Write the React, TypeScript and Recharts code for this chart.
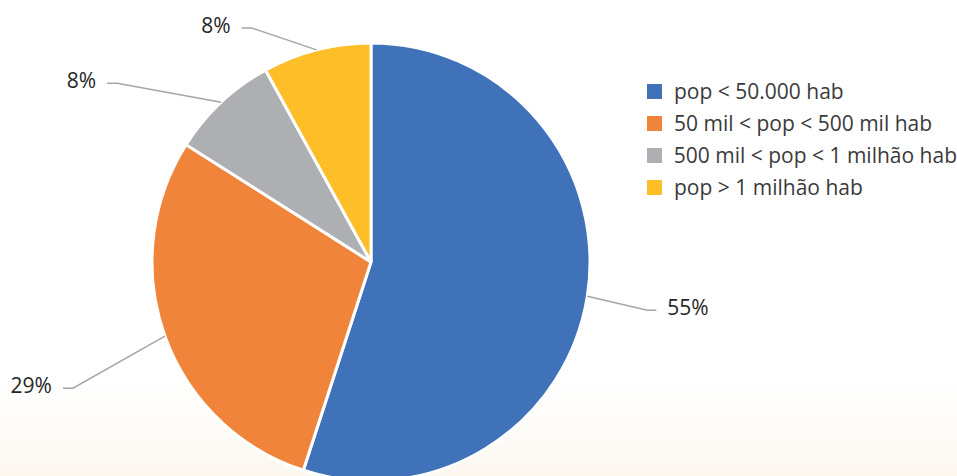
import { PieChart, Pie, Cell, Legend } from 'recharts';

const categories = [
  'pop < 50.000 hab',
  '50 mil < pop < 500 mil hab',
  '500 mil < pop < 1 milhão hab',
  'pop > 1 milhão hab',
];
const shares = [55, 29, 8, 8];
const colors = ['#3F72B9', '#F0843A', '#AEAFB2', '#FDBE27'];

// elbow of each leader line, relative to where it leaves the pie
const labelElbow = [
  [60, 14],
  [-92, 52],
  [-104, -19],
  [-65, -22],
];

const data = categories.map((name, i) => ({ name, value: shares[i] }));

const RAD = Math.PI / 180;
const FONT = '"Open Sans", sans-serif';

const renderLabel = (props: any) => {
  const { cx, cy, midAngle, outerRadius, index, value } = props;
  const sx = cx + outerRadius * Math.cos(-midAngle * RAD);
  const sy = cy + outerRadius * Math.sin(-midAngle * RAD);
  const [dx, dy] = labelElbow[index];
  const ex = sx + dx;
  const ey = sy + dy;
  const right = dx > 0;
  const hx = ex + (right ? 9 : -10);
  const tx = hx + (right ? 11 : -11);
  return (
    <g>
      <polyline
        points={`${sx},${sy} ${ex},${ey} ${hx},${ey}`}
        fill="none"
        stroke="#A6A6A6"
        strokeWidth={1.5}
      />
      <text
        x={tx}
        y={ey - 3}
        textAnchor={right ? 'start' : 'end'}
        dominantBaseline="central"
        fill="#262626"
        fontSize={21}
        fontFamily={FONT}
      >
        {`${value}%`}
      </text>
    </g>
  );
};

const renderLegend = () => (
  <div>
    {categories.map((name, i) => (
      <div key={name} style={{ display: 'flex', alignItems: 'center', height: 32 }}>
        <div style={{ width: 15, height: 15, background: colors[i], marginRight: 12 }} />
        <span style={{ fontFamily: FONT, fontSize: 21, color: '#3a3a3a', whiteSpace: 'nowrap' }}>
          {name}
        </span>
      </div>
    ))}
  </div>
);

export default function App() {
  return (
    <div
      style={{
        position: 'absolute',
        left: 0,
        top: 0,
        width: 957,
        height: 476,
        overflow: 'hidden',
        background: 'linear-gradient(to bottom, #ffffff 0%, #ffffff 80%, #fcf8f0 100%)',
      }}
    >
      <PieChart width={957} height={476} margin={{ top: 0, right: 0, bottom: 0, left: 0 }}>
        <Pie
          data={data}
          dataKey="value"
          nameKey="name"
          cx={371}
          cy={262}
          outerRadius={219}
          startAngle={90}
          endAngle={-270}
          stroke="#ffffff"
          strokeWidth={3}
          label={renderLabel}
          labelLine={false}
          isAnimationActive={false}
        >
          {data.map((d, i) => (
            <Cell key={d.name} fill={colors[i]} />
          ))}
        </Pie>
        <Legend
          layout="vertical"
          verticalAlign="top"
          align="right"
          content={renderLegend}
          wrapperStyle={{ left: 647, top: 75, right: 'auto', width: 310 }}
        />
      </PieChart>
    </div>
  );
}
